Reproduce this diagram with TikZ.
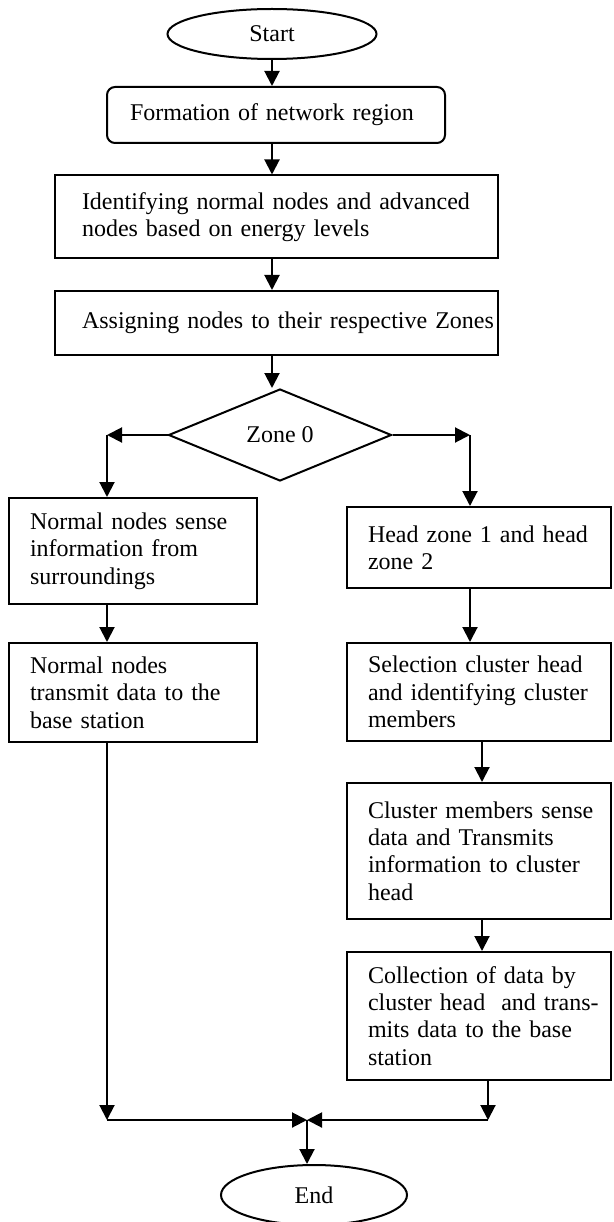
\documentclass[tikz,border=0pt]{standalone}
\usepackage{fontspec}
\setmainfont{Liberation Serif}
\usetikzlibrary{shapes.geometric,arrows.meta}
\newcommand\diagfont{\fontsize{24}{27.3}\selectfont}
\tikzset{
  base/.style={draw, line width=2pt, font=\diagfont},
  proc/.style={base, rectangle, align=left, inner ysep=0pt},
  term/.style={base, ellipse, inner sep=0pt},
  decision/.style={base, diamond, aspect=2.4, inner sep=0pt},
  arr/.style={line width=2pt, -{Triangle[length=15pt,width=15pt]}}
}
\begin{document}
\begin{tikzpicture}[x=1pt,y=-1pt]
\useasboundingbox (0,0) rectangle (613,1222);
% terminals
\node[term, minimum width=209pt, minimum height=50pt] (start) at (272,34) {Start};
\node[term, minimum width=186pt, minimum height=60pt] (end) at (314,1195) {End};
% main column
\node[proc, rounded corners=8pt, minimum width=338pt, minimum height=56pt, inner xsep=23pt, text width=292pt] (form) at (276,115) {Formation of network region};
\node[proc, minimum width=443pt, minimum height=83pt, inner xsep=27pt, text width=389pt] (ident) at (276.5,217) {\mbox{Identifying normal nodes and advanced}\\nodes based on energy levels};
\node[proc, minimum width=443pt, minimum height=64pt, inner xsep=27pt, text width=389pt] (assign) at (276.5,323) {\mbox{Assigning nodes to their respective Zones}};
\node[decision, minimum width=223pt, minimum height=92pt] (zone) at (280,435) {Zone 0};
% left column
\node[proc, minimum width=248pt, minimum height=106pt, inner xsep=21pt, text width=206pt] (nl1) at (133,551) {Normal nodes sense\\information from\\surroundings};
\node[proc, minimum width=248pt, minimum height=99pt, inner xsep=21pt, text width=206pt] (nl2) at (133,692.5) {Normal nodes\\transmit data to the\\base station};
% right column
\node[proc, minimum width=264pt, minimum height=81pt, inner xsep=21pt, text width=222pt] (hz) at (479,547.5) {\mbox{Head zone 1 and head}\\zone 2};
\node[proc, minimum width=264pt, minimum height=98pt, inner xsep=21pt, text width=222pt] (sel) at (479,692) {\mbox{Selection cluster head}\\\mbox{and identifying cluster}\\members};
\node[proc, minimum width=264pt, minimum height=136pt, inner xsep=21pt, text width=222pt] (cl) at (479,851) {\mbox{Cluster members sense}\\data and Transmits\\\mbox{information to cluster}\\head};
\node[proc, minimum width=264pt, minimum height=128pt, inner xsep=21pt, text width=222pt] (col) at (479,1016) {Collection of data by\\\mbox{cluster head\ \ and trans-}\\mits data to the base\\station};
% helper coordinates
\coordinate (cL) at (107,435);
\coordinate (cR) at (470,435);
\coordinate (a2) at (482,0);
\coordinate (jL) at (107,1120);
\coordinate (jR) at (488,1120);
\coordinate (jM) at (307,1120);
% connectors
\draw[arr] (start.south) -- (start.south |- form.north);
\draw[arr] (start.south |- form.south) -- (start.south |- ident.north);
\draw[arr] (start.south |- ident.south) -- (start.south |- assign.north);
\draw[arr] (start.south |- assign.south) -- (start.south |- zone.north);
\draw[arr] (zone.west) -- (cL);
\draw[arr] (cL) -- (cL |- nl1.north);
\draw[arr] (zone.east) -- (cR);
\draw[arr] (cR) -- (cR |- hz.north);
\draw[arr] (cL |- nl1.south) -- (cL |- nl2.north);
\draw[arr] (cL |- nl2.south) -- (jL);
\draw[arr] (jL) -- (jM);
\draw[arr] (cR |- hz.south) -- (cR |- sel.north);
\draw[arr] (a2 |- sel.south) -- (a2 |- cl.north);
\draw[arr] (a2 |- cl.south) -- (a2 |- col.north);
\draw[arr] (jR |- col.south) -- (jR);
\draw[arr] (jR) -- (jM);
\draw[arr] (jM) -- (jM |- end.north);
\end{tikzpicture}
\end{document}
